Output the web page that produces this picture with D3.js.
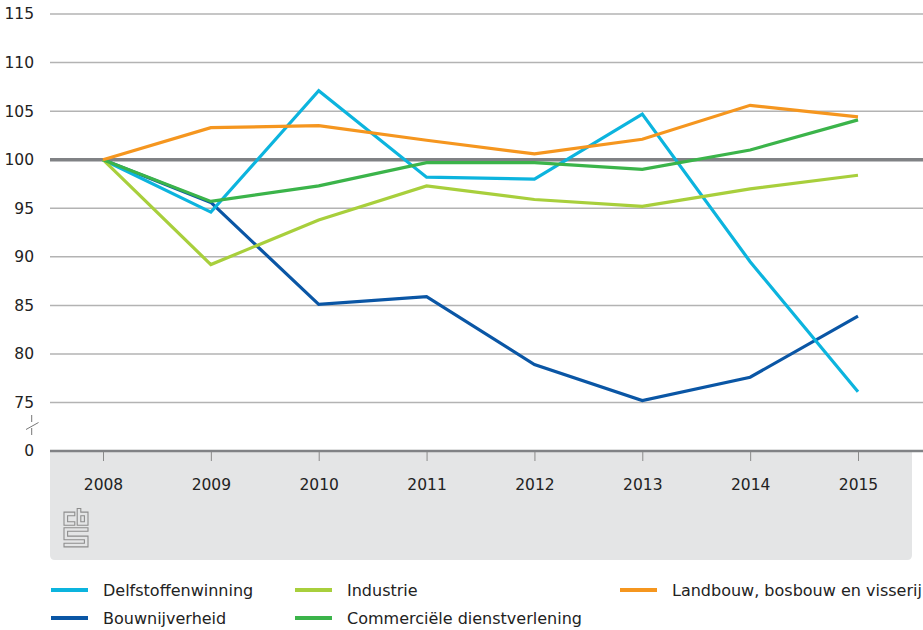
<!DOCTYPE html>
<html>
<head>
<meta charset="utf-8">
<script src="https://cdn.jsdelivr.net/npm/d3@7"></script>
<style>
  body { margin: 0; background: #ffffff; }
  svg { display: block; font-family: "DejaVu Sans", sans-serif; }
</style>
</head>
<body>
<svg id="chart" width="923" height="630"></svg>
<script>
const years = ["2008", "2009", "2010", "2011", "2012", "2013", "2014", "2015"];
const yTicks = [75, 80, 85, 90, 95, 100, 105, 110, 115];

const delfstoffen   = [100, 94.6, 107.1, 98.2, 98.0, 104.7, 89.5, 76.1];
const bouw          = [100, 95.6, 85.1, 85.9, 78.9, 75.2, 77.6, 83.9];
const industrie     = [100, 89.2, 93.8, 97.3, 95.9, 95.2, 97.0, 98.4];
const commercieel   = [100, 95.7, 97.3, 99.7, 99.7, 99.0, 101.0, 104.1];
const landbouw      = [100, 103.3, 103.5, 102.0, 100.6, 102.1, 105.6, 104.4];

const series = [
  { name: "Bouwnijverheid", values: bouw, color: "#0a56a5" },
  { name: "Delfstoffenwinning", values: delfstoffen, color: "#0cb4de" },
  { name: "Industrie", values: industrie, color: "#a8cf3c" },
  { name: "Commerciële dienstverlening", values: commercieel, color: "#3bb44a" },
  { name: "Landbouw, bosbouw en visserij", values: landbouw, color: "#f5961f" }
];

const legendOrder = [
  ["Delfstoffenwinning", 0, 0], ["Industrie", 1, 0], ["Landbouw, bosbouw en visserij", 2, 0],
  ["Bouwnijverheid", 0, 1], ["Commerciële dienstverlening", 1, 1]
];

let svg = d3.select("#chart");

let left = 50, right = 923, base = 451;

let x = d3.scalePoint()
  .domain(years)
  .range([103, 858]);

let y = d3.scaleLinear()
  .domain([75, 115])
  .range([402.5, 14]);

// grey panel under the axis
svg.append("path")
  .attr("d", `M${left},${base} H912 V555 Q912,560 907,560 H${left + 5} Q${left},560 ${left},555 Z`)
  .attr("fill", "#e4e5e6");

// gridlines
svg.append("g")
  .selectAll("line")
  .data(yTicks)
  .enter().append("line")
  .attr("x1", left)
  .attr("x2", right)
  .attr("y1", d => y(d))
  .attr("y2", d => y(d))
  .attr("stroke", d => d === 100 ? "#808285" : "#b3b3b3")
  .attr("stroke-width", d => d === 100 ? 3.5 : 1.5);

// y labels
svg.append("g")
  .selectAll("text")
  .data(yTicks)
  .enter().append("text")
  .attr("x", 34)
  .attr("y", d => y(d))
  .attr("dy", "0.35em")
  .attr("text-anchor", "end")
  .attr("font-size", 15.5)
  .attr("fill", "#222")
  .text(d => d);

svg.append("text")
  .attr("x", 34).attr("y", base).attr("dy", "0.35em")
  .attr("text-anchor", "end").attr("font-size", 15.5).attr("fill", "#222")
  .text("0");

// axis break
let brk = svg.append("g").attr("stroke", "#777").attr("stroke-width", 1).attr("fill", "none");
brk.append("line").attr("x1", 31.7).attr("x2", 31.7).attr("y1", 415).attr("y2", 422);
brk.append("line").attr("x1", 26).attr("x2", 38.5).attr("y1", 429.5).attr("y2", 422.5);
brk.append("line").attr("x1", 31.7).attr("x2", 31.7).attr("y1", 428).attr("y2", 435);

// x axis
svg.append("line")
  .attr("x1", left).attr("x2", right)
  .attr("y1", base).attr("y2", base)
  .attr("stroke", "#808285").attr("stroke-width", 2.5);

let xa = svg.append("g")
  .attr("transform", `translate(0,${base})`)
  .call(d3.axisBottom(x).tickSize(10).tickPadding(18));
xa.select(".domain").remove();
xa.selectAll(".tick line").attr("stroke", "#8a8a8a").attr("y1", 1);
xa.selectAll(".tick text")
  .attr("font-size", 15.5)
  .attr("fill", "#222")
  .attr("font-family", "DejaVu Sans, sans-serif");

// cbs logo
let logo = svg.append("g")
  .attr("transform", "translate(64,508.5) scale(1.2)")
  .attr("fill", "none")
  .attr("stroke", "#8c8c8c")
  .attr("stroke-width", 0.9);
logo.append("path").attr("d", "M9,3 H0 V14 H9 V11 H3 V6 H9 Z");
logo.append("path").attr("d", "M11,0 V14 H20 V3 H14 V0 Z M14,6 H17 V11 H14 Z");
logo.append("path").attr("d", "M20,16 H0 V26 H17 V29 H0 V32 H20 V23 H3 V19 H20 Z");

// lines
let line = d3.line()
  .x((d, i) => x(years[i]))
  .y(d => y(d));

svg.append("g")
  .selectAll("path")
  .data(series)
  .enter().append("path")
  .attr("d", d => line(d.values))
  .attr("fill", "none")
  .attr("stroke", d => d.color)
  .attr("stroke-width", 3.2)
  .attr("stroke-linejoin", "miter");

// legend
let colX = [51, 295, 620];
let rowY = [590, 618];
let lg = svg.append("g")
  .selectAll("g")
  .data(legendOrder)
  .enter().append("g")
  .attr("transform", d => `translate(${colX[d[1]]},${rowY[d[2]]})`);

lg.append("line")
  .attr("x1", 0).attr("x2", 37)
  .attr("stroke", d => series.find(s => s.name === d[0]).color)
  .attr("stroke-width", 4);

lg.append("text")
  .attr("x", 52)
  .attr("dy", "0.35em")
  .attr("font-size", 16)
  .attr("fill", "#222")
  .text(d => d[0]);
</script>
</body>
</html>
